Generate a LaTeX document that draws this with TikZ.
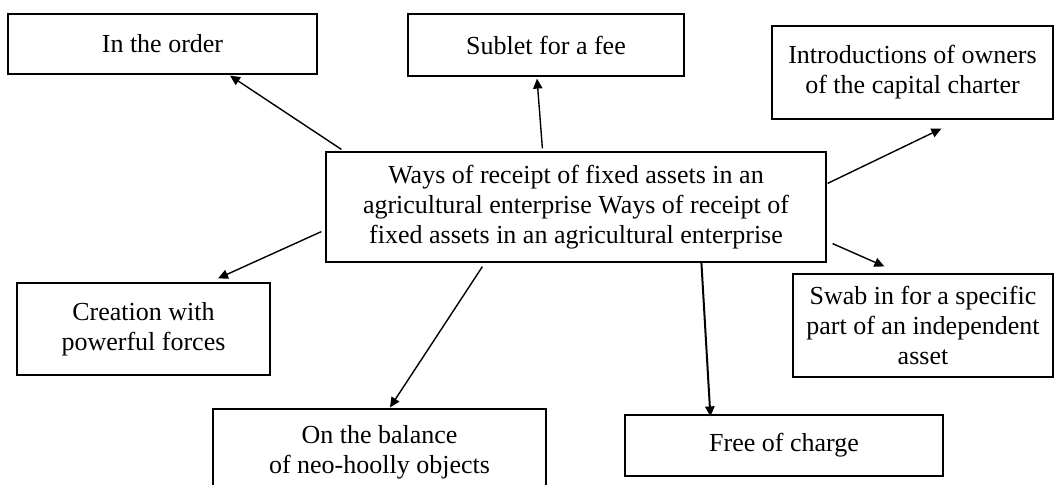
\documentclass[tikz,border=0pt]{standalone}
\usepackage{fontspec}
\setmainfont{Liberation Serif}
\usetikzlibrary{arrows.meta,calc}
\begin{document}
\begin{tikzpicture}[x=0.5pt,y=-0.5pt,
  box/.style={draw,line width=0.6pt,align=center,inner sep=0pt,
    font=\fontsize{13pt}{15pt}\selectfont},
  arr/.style={line width=0.7pt,-{Triangle[length=5pt,width=4.6pt]}}]
\useasboundingbox (0,0) rectangle (1055,484);
\node[box,minimum width=250pt,minimum height=55pt] (c) at (576,207)
  {Ways of receipt of fixed assets in an\\agricultural enterprise Ways of receipt of\\fixed assets in an agricultural enterprise};
\node[box,minimum width=154.5pt,minimum height=30pt] (order) at (162.5,44) {In the order};
\node[box,minimum width=138pt,minimum height=31pt] (sublet) at (546,45) {Sublet for a fee};
\node[box,minimum width=140.5pt,minimum height=46.5pt] (intro) at (912.5,72.5) {Introductions of owners\\of the capital charter};
\node[box,minimum width=126.5pt,minimum height=46pt] (creation) at (143.5,329) {Creation with\\powerful forces};
\node[box,minimum width=166.5pt,minimum height=43pt] (balance) at (379.5,452) {On the balance\\of neo-hoolly objects};
\node[box,minimum width=159pt,minimum height=30.5pt] (free) at (784,445.5) {Free of charge};
\node[box,minimum width=130pt,minimum height=51.5pt] (swab) at (923,325.5) {Swab in for a specific\\part of an independent\\asset};
\draw[arr] ($(c.north west)+(16,-2)$) -- ($(order.south)+(67.5,1)$);
\draw[arr] ($(c.north west)+(217,-3)$) -- ($(sublet.south)+(-9,2)$);
\draw[arr] ($(c.north east)+(1,32)$) -- ($(intro.south west)+(170,9)$);
\draw[arr] ($(c.south west)+(-4,-31)$) -- ($(creation.north)+(74.5,-4)$);
\draw[arr] ($(c.south west)+(157,4)$) -- ($(balance.north)+(10.5,-1)$);
\draw[arr,line width=1pt] ($(c.south west)+(376,0)$) -- ($(free.north west)+(86,2)$);
\draw[arr] ($(c.south east)+(6,-19)$) -- ($(swab.north west)+(92,-7)$);
\end{tikzpicture}
\end{document}
